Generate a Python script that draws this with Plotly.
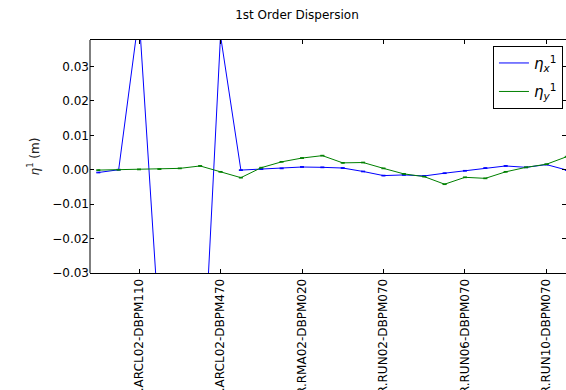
import plotly.graph_objects as go

# --- data ---
bpm_index = list(range(24))
eta_x = [-0.0008, 0.0, 0.045, -0.047, -0.062, -0.078, 0.039, -0.0001, 0.0002, 0.0004,
         0.0008, 0.0007, 0.0005, -0.0005, -0.0017, -0.0015, -0.0018, -0.0010, -0.0003,
         0.0005, 0.0011, 0.0007, 0.0015, -0.0001]
eta_y = [-0.0001, 0.0, 0.0001, 0.0002, 0.0004, 0.0011, -0.0006, -0.0023, 0.0006, 0.0023,
         0.0034, 0.0041, 0.0020, 0.0021, 0.0004, -0.0012, -0.0020, -0.0042, -0.0022,
         -0.0025, -0.0006, 0.0007, 0.0016, 0.0038]
eta_x_err = [0.0001] * 24
eta_y_err = [0.0001] * 24
tick_idx = [2, 6, 10, 14, 18, 22]
tick_labels = ["ER.ARCL02-DBPM110", "ER.ARCL02-DBPM470", "ER.RMA02-DBPM020",
               "ER.RUN02-DBPM070", "ER.RUN06-DBPM070", "ER.RUN10-DBPM070"]
y_ticks = [-0.03, -0.02, -0.01, 0.0, 0.01, 0.02, 0.03]

FONT = "DejaVu Sans"

fig = go.Figure()
fig.add_trace(go.Scatter(
    x=bpm_index, y=eta_x, mode="lines", name="<i>η</i><sub><i>x</i></sub><sup>1</sup>",
    legendgroup="ex",
    line=dict(color="#0000ff", width=1),
    error_y=dict(type="data", array=eta_x_err, color="#0000ff", thickness=1, width=2),
))
fig.add_trace(go.Scatter(
    x=bpm_index, y=eta_y, mode="lines", name="<i>η</i><sub><i>y</i></sub><sup>1</sup>",
    legendgroup="ey",
    line=dict(color="#008000", width=1),
    error_y=dict(type="data", array=eta_y_err, color="#008000", thickness=1, width=2),
))

L, R, T, B = 90.3, 0, 40.3, 117.3
PW = 566 - L - R
PH = 390 - T - B

fig.update_layout(
    width=566, height=390,
    template="none",
    paper_bgcolor="white", plot_bgcolor="white",
    margin=dict(l=L, r=R, t=T, b=B, autoexpand=False),
    font=dict(family=FONT, size=12, color="black"),
    title=dict(text="1st Order Dispersion", x=297 / 566, xanchor="center",
               xref="container", y=1 - 15 / 390, yanchor="middle", yref="container",
               font=dict(family=FONT, size=12, color="black")),
    showlegend=True,
    legend=dict(x=(493 - L) / PW, y=(390 - B - 46) / PH, xanchor="left", yanchor="top",
                bgcolor="white", bordercolor="black", borderwidth=1,
                font=dict(family=FONT, size=15, color="black"),
                itemwidth=30, tracegroupgap=6),
)
fig.update_xaxes(
    range=[-0.407, 22.96], tickmode="array", tickvals=tick_idx, ticktext=tick_labels,
    tickangle=-90, ticks="inside", ticklen=4, tickcolor="black",
    showline=True, linecolor="black", linewidth=1, mirror="ticks",
    showgrid=False, zeroline=False, automargin=False,
    tickfont=dict(family=FONT, size=12, color="black"),
)
fig.update_yaxes(
    range=[-0.03, 0.0377], tickmode="array", tickvals=y_ticks, tickformat=".2f",
    ticks="inside", ticklen=4, tickcolor="black",
    showline=False, mirror="ticks",
    showgrid=False, zeroline=False, automargin=False,
    tickfont=dict(family=FONT, size=12, color="black"),
    title=dict(text="<i>η</i><sup>1</sup> (m)", standoff=10,
               font=dict(family=FONT, size=12, color="#222222")),
)
# left spine
fig.add_shape(type="line", xref="paper", yref="paper", x0=0, x1=0, y0=0, y1=1,
              line=dict(color="black", width=1))

fig.write_html(
    "out.html",
    config={"displayModeBar": False},
    post_script="document.body.style.margin='0';"
                "document.documentElement.style.overflow='hidden';",
)
